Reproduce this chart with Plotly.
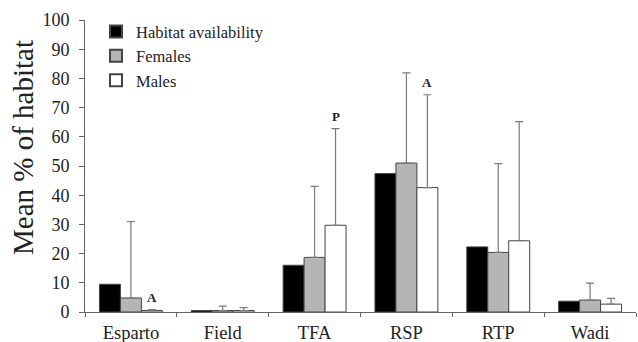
import plotly.graph_objects as go

categories = ["Esparto", "Field", "TFA", "RSP", "RTP", "Wadi"]
habitat = [9.5, 0.5, 16.0, 47.4, 22.3, 3.7]
females = [4.8, 0.5, 18.7, 51.0, 20.4, 4.1]
females_err = [26.2, 1.5, 24.3, 30.9, 30.4, 5.8]
males = [0.5, 0.5, 29.7, 42.6, 24.4, 2.7]
males_err = [0.3, 1.0, 33.1, 31.8, 40.8, 2.0]
sig_labels = ["A", "", "P", "A", "", ""]

font = "Liberation Serif, Times New Roman, serif"
outline = dict(color="#444444", width=1)

fig = go.Figure()
fig.add_trace(go.Bar(x=categories, y=habitat, name="Habitat availability",
                     marker=dict(color="#000000", line=outline)))
fig.add_trace(go.Bar(x=categories, y=females, name="Females",
                     marker=dict(color="#b5b5b5", line=outline),
                     error_y=dict(type="data", symmetric=False, array=females_err,
                                  arrayminus=[0]*6, color="#7a7a7a", thickness=1.2, width=4)))
fig.add_trace(go.Bar(x=categories, y=males, name="Males",
                     marker=dict(color="#ffffff", line=outline),
                     error_y=dict(type="data", symmetric=False, array=males_err,
                                  arrayminus=[0]*6, color="#7a7a7a", thickness=1.2, width=4)))

for c, v, e, lab in zip(categories, males, males_err, sig_labels):
    if lab:
        fig.add_annotation(x=c, y=v + e, text="<b>" + lab + "</b>", showarrow=False,
                           xshift=21, yshift=3, yanchor="bottom",
                           font=dict(family=font, size=13, color="#222222"))

# y-axis title as rotated annotation
fig.add_annotation(xref="paper", yref="paper", x=0, y=0.5, xanchor="center", yanchor="middle",
                   xshift=-62, yshift=18, textangle=-90, showarrow=False,
                   text="Mean % of habitat", font=dict(family=font, size=29, color="#222222"))

fig.update_layout(
    width=638, height=342,
    margin=dict(l=85, r=2, t=20, b=30),
    paper_bgcolor="white", plot_bgcolor="white",
    barmode="group", bargap=0.315, bargroupgap=0,
    font=dict(family=font, color="#222222"),
    showlegend=True,
    legend=dict(x=0.02, y=1.02, xanchor="left", yanchor="top",
                font=dict(family=font, size=16.5, color="#222222"),
                bgcolor="rgba(0,0,0,0)", tracegroupgap=0, itemwidth=30,
                itemsizing="constant"),
)
fig.update_yaxes(range=[0, 100], dtick=10, showgrid=False, zeroline=False,
                 showline=True, linecolor="#666666", linewidth=1,
                 ticks="outside", ticklen=5, tickcolor="#666666",
                 ticklabelstandoff=6, automargin=False,
                 tickfont=dict(family=font, size=18, color="#222222"))
fig.update_xaxes(showgrid=False, showline=True, linecolor="#666666", linewidth=1,
                 ticks="outside", ticklen=4, tickcolor="#666666", tickson="boundaries",
                 automargin=False, ticklabelstandoff=4,
                 tickfont=dict(family=font, size=18.5, color="#222222"))

fig.write_html("out.html", config={"displayModeBar": False},
               post_script="document.body.style.margin='0';document.body.style.overflow='hidden';")
